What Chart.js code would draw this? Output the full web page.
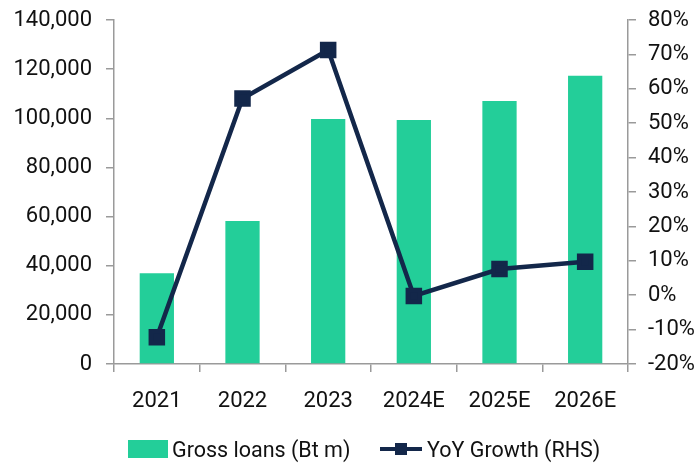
<!DOCTYPE html>
<html>
<head>
<meta charset="utf-8">
<script src="https://cdn.jsdelivr.net/npm/chart.js@4/dist/chart.umd.min.js"></script>
<style>
  html, body { margin: 0; padding: 0; background: #fff; }
  .wrap { position: relative; width: 699px; height: 463px; }
  .legend {
    position: absolute; left: 0; top: 437px; width: 699px; height: 24px;
    font-family: Roboto, 'Liberation Sans', sans-serif; font-size: 21.5px; color: #111;
  }
  .legend__item { position: absolute; top: 0; display: flex; align-items: center; height: 24px; }
  .legend__box { width: 40px; height: 18px; background: #23ce99; margin-right: 4px; }
  .legend__line { position: relative; width: 42px; height: 4px; background: #13274a; margin-right: 5px; }
  .legend__line::after {
    content: ''; position: absolute; left: 15px; top: -4px; width: 12px; height: 12px; background: #13274a;
  }
</style>
</head>
<body>
<div class="wrap">
  <canvas id="chart" width="699" height="463"></canvas>
  <div class="legend">
    <div class="legend__item" style="left:128px"><span class="legend__box"></span>Gross loans (Bt m)</div>
    <div class="legend__item" style="left:380px"><span class="legend__line"></span>YoY Growth (RHS)</div>
  </div>
</div>
<script>
const categories = ['2021', '2022', '2023', '2024E', '2025E', '2026E'];
const grossLoans = [36900, 58200, 99700, 99300, 107000, 117300];
const yoyGrowth = [-12.2, 57.2, 71.3, -0.2, 7.6, 9.7];

const AXIS = '#9a9a9a';
const TEXT = '#111';
const FONT = { family: "Roboto, 'Liberation Sans', sans-serif", size: 22 };

new Chart(document.getElementById('chart'), {
  data: {
    labels: categories,
    datasets: [
      {
        type: 'line',
        label: 'YoY Growth (RHS)',
        data: yoyGrowth,
        yAxisID: 'y1',
        borderColor: '#13274a',
        backgroundColor: '#13274a',
        borderWidth: 4.5,
        pointStyle: 'rect',
        pointRadius: 8.5,
        pointHoverRadius: 8.5,
        tension: 0,
        order: 1,
      },
      {
        type: 'bar',
        label: 'Gross loans (Bt m)',
        data: grossLoans,
        yAxisID: 'y',
        backgroundColor: '#23ce99',
        categoryPercentage: 1,
        barPercentage: 0.4,
        order: 2,
      },
    ],
  },
  options: {
    responsive: false,
    animation: false,
    layout: { padding: { top: 0, left: 0, right: 0, bottom: 0 } },
    plugins: { legend: { display: false }, tooltip: { enabled: false } },
    scales: {
      x: {
        offset: true,
        grid: { display: true, drawOnChartArea: false, offset: true, tickLength: 8, color: AXIS, lineWidth: 1.5 },
        border: { display: true, color: AXIS, width: 1.5 },
        ticks: { color: TEXT, font: FONT, padding: 16, maxRotation: 0 },
        afterFit: s => { s.height = 99; },
      },
      y: {
        position: 'left',
        min: 0, max: 140000,
        grid: { display: true, drawOnChartArea: false, tickLength: 8, color: AXIS, lineWidth: 1.5 },
        border: { display: true, color: AXIS, width: 1.5 },
        ticks: { stepSize: 20000, color: TEXT, font: FONT, padding: 14,
          callback: v => v.toLocaleString('en-US') },
        afterFit: s => { s.width = 114; s.paddingTop = 20; },
      },
      y1: {
        position: 'right',
        min: -20, max: 80,
        grid: { display: true, drawOnChartArea: false, tickLength: 8, color: AXIS, lineWidth: 1.5 },
        border: { display: true, color: AXIS, width: 1.5 },
        ticks: { stepSize: 10, color: TEXT, font: FONT, padding: 12,
          callback: v => v + '%' },
        afterFit: s => { s.width = 71; s.paddingTop = 20; },
      },
    },
  },
});
</script>
</body>
</html>
